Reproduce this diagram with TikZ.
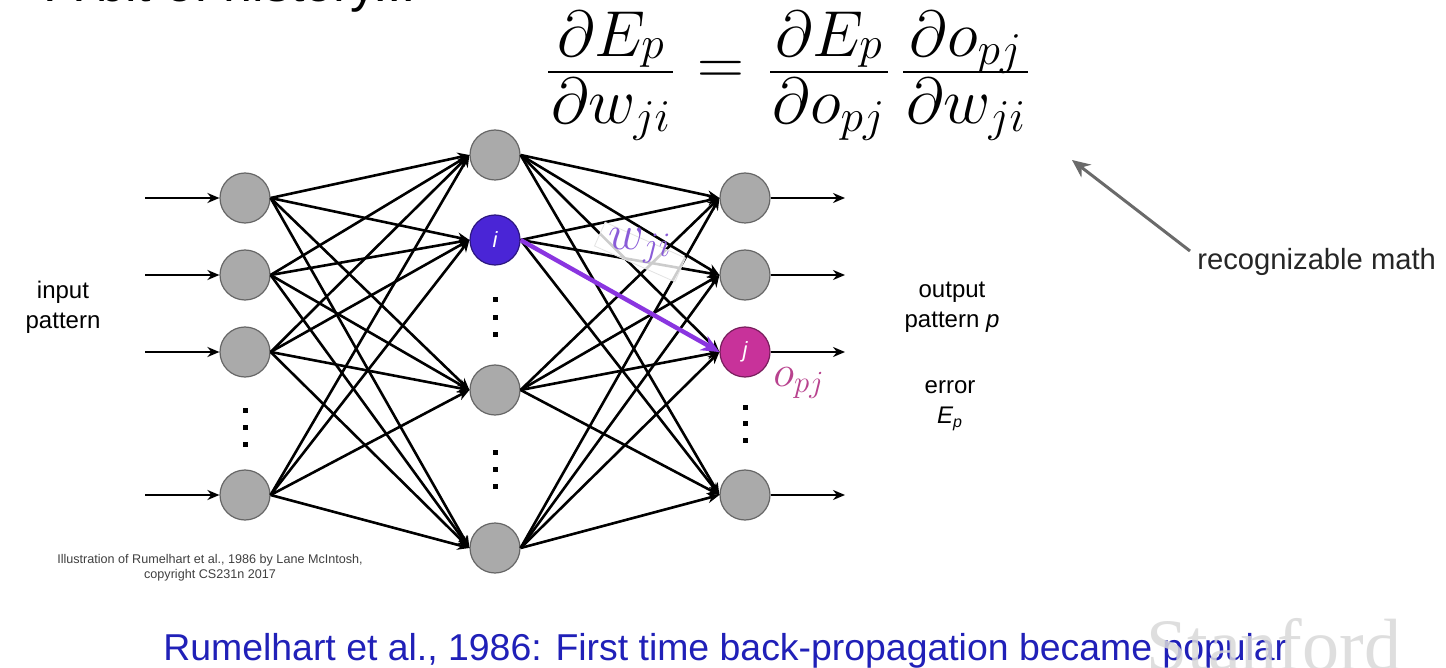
\RequirePackage{fix-cm}
\documentclass[tikz,border=0pt]{standalone}
\usepackage{fontspec}
\setmainfont{Liberation Sans}
\newfontfamily\serifwm{Liberation Serif}
\usetikzlibrary{arrows.meta}
\definecolor{nodegray}{HTML}{AAAAAA}
\definecolor{nodeedge}{HTML}{666666}
\definecolor{iblue}{HTML}{4A25D6}
\definecolor{jmag}{HTML}{C8329A}
\definecolor{arrowpurple}{HTML}{8A35E0}
\definecolor{wpurple}{HTML}{8A5CD8}
\definecolor{omag}{HTML}{B8428E}
\definecolor{bluetext}{HTML}{2020B8}
\definecolor{arrowgray}{HTML}{6A6A6A}
\newcommand\eqfont{\fontsize{32.5pt}{36pt}\selectfont}
\begin{document}
\begin{tikzpicture}[x=0.5pt,y=-0.5pt,
  neuron/.style={circle, draw=nodeedge, line width=0.6pt, fill=nodegray, minimum size=25pt, inner sep=0pt},
  conn/.style={line width=1.3pt, -{Stealth[length=6pt,width=5pt]}},
  lbl/.style={align=center, font=\fontsize{12pt}{15pt}\selectfont, inner sep=0pt},
  eqpart/.style={anchor=base, inner sep=0pt, font=\eqfont},
  fracbar/.style={line width=1pt},
]
\useasboundingbox (0,0) rectangle (1446,668);
\fill[white] (0,0) rectangle (1446,668);

\begin{scope}
\clip (0,0) rectangle (1446,668);
\node[anchor=base west, inner sep=0pt, font=\fontsize{26pt}{30pt}\selectfont] (title) at (47,2) {A bit of history...};
\end{scope}

% equation, set part by part
\node[eqpart] (n1) at (611,57) {$\global\fontdimen16\textfont2=1pt \partial E_p$};
\node[eqpart] (d1) at (611,124) {$\partial w_{ji}$};
\coordinate (b1l) at (548,72); \coordinate (b1r) at (673,72);
\draw[fracbar] (b1l) -- (b1r);
\node[eqpart] (eqs) at (721,85) {$=$};
\node[eqpart] (n2) at (829,57) {$\partial E_p$};
\node[eqpart] (d2) at (829,124) {$\partial o_{pj}$};
\coordinate (b2l) at (770,72); \coordinate (b2r) at (888,72);
\draw[fracbar] (b2l) -- (b2r);
\node[eqpart] (n3) at (966,57) {$\partial o_{pj}$};
\node[eqpart] (d3) at (966,124) {$\partial w_{ji}$};
\coordinate (b3l) at (903,72); \coordinate (b3r) at (1028,72);
\draw[fracbar] (b3l) -- (b3r);

% neurons
\node[neuron] (L1) at (245,198) {};
\node[neuron] (L2) at (245,275) {};
\node[neuron] (L3) at (245,352) {};
\node[neuron] (L4) at (245,495) {};
\node[neuron] (H1) at (495,155) {};
\node[neuron, fill=iblue, draw=iblue!60!black, text=white, font=\fontsize{11pt}{12pt}\selectfont\itshape] (Hi) at (495,240) {i};
\node[neuron] (H3) at (495,390) {};
\node[neuron] (H4) at (495,548) {};
\node[neuron] (O1) at (745,198) {};
\node[neuron] (O2) at (745,275) {};
\node[neuron, fill=jmag, draw=jmag!60!black, text=white, font=\fontsize{11pt}{12pt}\selectfont\itshape] (Oj) at (745,352) {j};
\node[neuron] (O4) at (745,495) {};

% input / output arrows
\foreach \n/\y in {1/198,2/275,3/352,4/495}{
  \coordinate (in\n) at (145,\y);
  \draw[conn] (in\n) -- (L\n.west);
}
\foreach \n/\y in {1/198,2/275,j/352,4/495}{
  \coordinate (out\n) at (845,\y);
  \draw[conn] (O\n.east) -- (out\n);
}

% connections
\foreach \a in {L1,L2,L3,L4}
  \foreach \b in {H1,Hi,H3,H4}
    \draw[conn] (\a.east) -- (\b.west);
\foreach \a in {H1,H3,H4}
  \foreach \b in {O1,O2,Oj,O4}
    \draw[conn] (\a.east) -- (\b.west);
\foreach \b in {O1,O2,O4}
  \draw[conn] (Hi.east) -- (\b.west);

% w_ji label background and text
\node[rotate=-24, fill=white, fill opacity=0.8, draw=gray!22, minimum width=44pt, minimum height=13pt, inner sep=0pt] (wbg) at (640,252) {};
\node[text=wpurple, inner sep=0pt, font=\fontsize{24.5pt}{28pt}\selectfont] (wji) at (640,246) {$w_{ji}$};

% purple highlighted weight
\draw[line width=2.2pt, arrowpurple, -{Stealth[length=9pt,width=8pt]}] (Hi.east) -- (Oj.west);

\node[text=omag, inner sep=0pt, font=\fontsize{22pt}{25pt}\selectfont] (opj) at (799,383) {$o_{pj}$};

% dots
\foreach \x/\y in {245/410,245/427,245/444, 495/300,495/318,495/335, 495/452,495/469,495/486, 745/407,745/423,745/440}
  \fill (\x-2.5,\y-2.5) rectangle ++(5,5);

% labels
\node[lbl] (inp) at (63,307) {input\\pattern};
\node[lbl] (outp) at (952,307) {output\\pattern \textit{p}};
\node[lbl] (err) at (950,406) {error\\\textit{E\textsubscript{p}}};

\node[anchor=west, inner sep=0pt, font=\fontsize{14.6pt}{17pt}\selectfont, text=black!85] (rm) at (1197,262) {recognizable math};
\coordinate (rmtail) at (1190,251);
\coordinate (rmtip) at (1072,160);
\draw[arrowgray, line width=1.5pt, -{Stealth[length=9pt,width=8pt]}] (rmtail) -- (rmtip);

\node[align=center, inner sep=0pt, font=\fontsize{6.3pt}{7.6pt}\selectfont, text=black!75] (credit) at (210,568)
  {Illustration of Rumelhart et al., 1986 by Lane McIntosh,\\copyright CS231n 2017};

\node[anchor=base west, inner sep=0pt, text=bluetext, font=\fontsize{18.7pt}{22pt}\selectfont] (bottom) at (163,660)
  {Rumelhart et al., 1986: First time back-propagation became popular};

\begin{scope}
\clip (0,0) rectangle (1446,668);
\node[anchor=base west, inner sep=0pt, text=gray!30, opacity=0.85, font=\serifwm\fontsize{37pt}{40pt}\selectfont] (stanford) at (1146,670) {Stanford};
\end{scope}
\end{tikzpicture}
\end{document}
